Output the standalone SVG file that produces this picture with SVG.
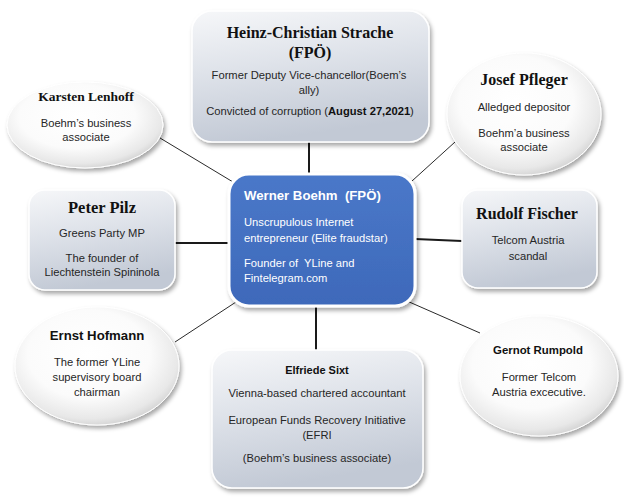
<svg xmlns="http://www.w3.org/2000/svg" width="624" height="503" viewBox="0 0 624 503">
  <defs>
    <linearGradient id="boxGrad" x1="0" y1="0" x2="0.25" y2="1">
      <stop offset="0" stop-color="#f6f7f9"/>
      <stop offset="0.45" stop-color="#dfe3ea"/>
      <stop offset="1" stop-color="#c2c9d5"/>
    </linearGradient>
    <radialGradient id="ellGrad" cx="0.45" cy="0.4" r="0.62">
      <stop offset="0" stop-color="#ffffff"/>
      <stop offset="0.6" stop-color="#fbfbfb"/>
      <stop offset="0.88" stop-color="#e8e8e8"/>
      <stop offset="1" stop-color="#d2d2d2"/>
    </radialGradient>
    <linearGradient id="blueGrad" x1="0" y1="0" x2="0" y2="1">
      <stop offset="0" stop-color="#4a78c9"/>
      <stop offset="1" stop-color="#3e69ba"/>
    </linearGradient>
    <filter id="shadow" x="-20%" y="-20%" width="140%" height="150%">
      <feDropShadow dx="2" dy="3" stdDeviation="2.2" flood-color="#000000" flood-opacity="0.35"/>
    </filter>
  </defs>
  <style>
    .box { fill: url(#boxGrad); stroke: #ffffff; stroke-width: 1.5; filter: url(#shadow); }
    .ell { fill: url(#ellGrad); stroke: #ffffff; stroke-width: 1; filter: url(#shadow); }
    .center { fill: url(#blueGrad); stroke: #ffffff; stroke-width: 3; filter: url(#shadow); }
    .ts { font-family: "Liberation Serif", "Times New Roman", serif; font-weight: bold; fill: #111111; text-anchor: middle; }
    .tb { font-family: "Liberation Sans", Arial, sans-serif; font-weight: bold; fill: #111111; text-anchor: middle; }
    .b { font-family: "Liberation Sans", Arial, sans-serif; font-size: 11.2px; fill: #262626; text-anchor: middle; }
    .w { font-family: "Liberation Sans", Arial, sans-serif; fill: #ffffff; }
    .thin { stroke: #2a2a2a; stroke-width: 1; fill: none; }
    .thick { stroke: #1a1a1a; stroke-width: 2; fill: none; }
  </style>
  <rect width="624" height="503" fill="#ffffff"/>

  <g id="connectors">
    <line class="thick" x1="309" y1="142" x2="309" y2="174"/>
    <line class="thin" x1="160" y1="138" x2="233" y2="182"/>
    <line class="thin" x1="455" y1="142" x2="412" y2="181"/>
    <line class="thick" x1="175" y1="243" x2="229" y2="243"/>
    <line class="thick" x1="415" y1="239" x2="462" y2="241"/>
    <line class="thin" x1="175" y1="342" x2="236" y2="302"/>
    <line class="thick" x1="316" y1="306" x2="316" y2="350"/>
    <line class="thin" x1="407" y1="301" x2="480" y2="333"/>
  </g>

  <g id="strache">
    <rect class="box" x="192" y="11" width="237" height="131" rx="20" ry="20"/>
    <text class="ts" x="310" y="38" font-size="16">Heinz-Christian Strache</text>
    <text class="ts" x="310" y="58" font-size="16">(FPÖ)</text>
    <text class="b" x="309" y="79">Former Deputy Vice-chancellor(Boem’s</text>
    <text class="b" x="309" y="94">ally)</text>
    <text class="b" x="310" y="115">Convicted of corruption (<tspan font-weight="bold" fill="#111111">August 27,2021</tspan>)</text>
  </g>

  <g id="karsten">
    <ellipse class="ell" cx="85" cy="125" rx="78" ry="43"/>
    <text class="ts" x="86" y="101" font-size="13.5">Karsten Lenhoff</text>
    <text class="b" x="86" y="127">Boehm’s business</text>
    <text class="b" x="86" y="141">associate</text>
  </g>

  <g id="pfleger">
    <ellipse class="ell" cx="524" cy="114" rx="77" ry="61"/>
    <text class="ts" x="524" y="85" font-size="16">Josef Pfleger</text>
    <text class="b" x="524" y="111">Alledged depositor</text>
    <text class="b" x="524" y="137">Boehm’a business</text>
    <text class="b" x="524" y="151">associate</text>
  </g>

  <g id="pilz">
    <rect class="box" x="29" y="190" width="146" height="100" rx="16" ry="16"/>
    <text class="ts" x="102" y="213" font-size="16.5">Peter Pilz</text>
    <text class="b" x="102" y="237">Greens Party MP</text>
    <text class="b" x="102" y="262">The founder of</text>
    <text class="b" x="102" y="276">Liechtenstein Spininola</text>
  </g>

  <g id="boehm">
    <rect class="center" x="229" y="174" width="186" height="132" rx="20" ry="20"/>
    <text class="w" x="244" y="200" font-size="13.2" font-weight="bold">Werner Boehm&#160; (FPÖ)</text>
    <text class="w" x="244" y="226" font-size="11.2">Unscrupulous Internet</text>
    <text class="w" x="244" y="242" font-size="11.2">entrepreneur (Elite fraudstar)</text>
    <text class="w" x="244" y="267" font-size="11.2">Founder of&#160; YLine and</text>
    <text class="w" x="244" y="282" font-size="11.2">Fintelegram.com</text>
  </g>

  <g id="fischer">
    <rect class="box" x="462" y="190" width="135" height="98" rx="16" ry="16"/>
    <text class="ts" x="527" y="219" font-size="16">Rudolf Fischer</text>
    <text class="b" x="528" y="244">Telcom Austria</text>
    <text class="b" x="528" y="260">scandal</text>
  </g>

  <g id="hofmann">
    <ellipse class="ell" cx="97" cy="366" rx="82" ry="59"/>
    <text class="tb" x="97" y="340" font-size="13.2">Ernst Hofmann</text>
    <text class="b" x="97" y="366">The former YLine</text>
    <text class="b" x="97" y="381">supervisory board</text>
    <text class="b" x="97" y="396">chairman</text>
  </g>

  <g id="sixt">
    <rect class="box" x="212" y="350" width="211" height="138" rx="20" ry="20"/>
    <text class="tb" x="317" y="374" font-size="11">Elfriede Sixt</text>
    <text class="b" x="317" y="397">Vienna-based chartered accountant</text>
    <text class="b" x="317" y="424">European Funds Recovery Initiative</text>
    <text class="b" x="317" y="439">(EFRI</text>
    <text class="b" x="317" y="462">(Boehm’s business associate)</text>
  </g>

  <g id="rumpold">
    <ellipse class="ell" cx="539" cy="376" rx="79" ry="60"/>
    <text class="tb" x="538" y="354" font-size="11.4">Gernot Rumpold</text>
    <text class="b" x="539" y="381">Former Telcom</text>
    <text class="b" x="539" y="396">Austria excecutive.</text>
  </g>
</svg>
